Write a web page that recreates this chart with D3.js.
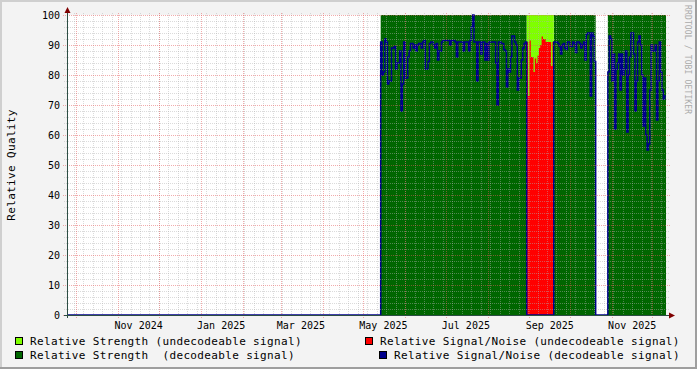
<!doctype html>
<meta charset="utf-8">

<style>
 body { margin: 0; background: #f3f3f3; }
 svg text { font-family: "DejaVu Sans Mono", monospace; }
 .tick text { font-size: 10px; fill: #000; }
 .legend text { font-size: 11px; letter-spacing: 0.35px; fill: #000; }
</style>

<svg width="697" height="369"></svg>

<script src="https://d3js.org/d3.v7.min.js"></script>
<script>
 // Data
 var timeDomain = ["2024-09-24", "2025-12-11"];
 var yTicks = [0, 10, 20, 30, 40, 50, 60, 70, 80, 90, 100];
 var strengthLevel = 100;

 // daily signal/noise while the signal was decodeable
 var snrMayAugStart = "2025-05-14";
 var snrMayAug = [91, 80, 81, 92, 91, 77, 78, 78, 89, 89,
                  89.5, 82, 84, 84, 88, 68, 77, 91, 79, 79,
                  86, 88, 90.5, 90.5, 89, 90, 88, 90, 90.5, 90.5,
                  89, 91, 91.5, 82, 82, 84.5, 90.5, 91, 91, 90,
                  89, 90.5, 85, 88, 88, 91, 91.5, 91.5, 91.5, 91.5,
                  91.5, 90, 91.5, 91.5, 91.5, 91, 86, 91, 91, 91,
                  91, 88, 91, 91, 91, 88, 91.5, 96, 100, 91,
                  91, 78, 91, 91, 87, 91, 91, 85, 90.5, 85,
                  91, 91, 91, 91, 91, 84, 70, 91, 91, 90.5,
                  90.5, 88.5, 88, 76, 82, 81, 86, 93, 93, 91,
                  90, 75, 79, 79, 85, 89, 90.5, 91];
 var snrSepOctStart = "2025-09-19";
 var snrSepOct = [91, 91, 91, 90.5, 89.5, 87, 90, 90.5, 89, 88.5,
                  91, 91, 89.5, 89.5, 91, 90.5, 87.5, 91, 91, 90.5,
                  89, 90, 91, 85, 93.5, 94, 94, 73, 94, 93, 84.5];
 var snrOctDecStart = "2025-10-29";
 var snrOctDec = [81, 93, 92, 78, 87, 62, 82, 84, 87, 75,
                  87, 80, 82, 88, 61, 80, 86, 94, 94, 87,
                  68, 78, 91, 93, 90, 80, 63, 79, 60, 55,
                  57, 75, 90, 88, 88, 90, 65, 78, 91, 81,
                  75, 72, 73];

 // daily signal/noise while the signal was not decodeable
 var snrUndecodeStart = "2025-08-30";
 var snrUndecode = [91, 73, 91.5, 86, 86, 81, 85.5, 84, 86.5, 89,
                    90, 92.8, 92, 92, 91, 91, 91, 91, 83, 91];

 var legendLabels = [
   "Relative Strength (undecodeable signal)",
   "Relative Signal/Noise (undecodeable signal)",
   "Relative Strength  (decodeable signal)",
   "Relative Signal/Noise (decodeable signal)"
 ];

 var colors = {
   strengthUndec: "#7fff00",
   strengthDec: "#006600",
   snrUndec: "#ff0000",
   snrDec: "#00008c"
 };

 // Set up SVG
 var svg = d3.select("svg");
 var width = +svg.attr("width");
 var height = +svg.attr("height");
 var plot = { left: 67, right: 666, top: 15, bottom: 315 };

 var x = d3.scaleUtc()
           .domain(timeDomain.map(function(d) { return new Date(d); }))
           .range([plot.left, plot.right]);
 var y = d3.scaleLinear().domain([0, 100]).range([plot.bottom, plot.top]);

 function daySeries(start, values) {
   var t0 = new Date(start);
   var s = values.map(function(v, i) { return { date: d3.utcDay.offset(t0, i), value: v }; });
   s.push({ date: d3.utcDay.offset(t0, values.length), value: values[values.length - 1] });
   return s;
 }

 var decodeSegments = [
   daySeries(snrMayAugStart, snrMayAug),
   daySeries(snrSepOctStart, snrSepOct),
   daySeries(snrOctDecStart, snrOctDec)
 ];
 var undecodeSegment = daySeries(snrUndecodeStart, snrUndecode);

 // blue line over the whole range, zero where there is no decodeable data
 var lookup = new Map();
 decodeSegments.forEach(function(seg) {
   seg.slice(0, -1).forEach(function(d) { lookup.set(+d.date, d.value); });
 });
 var t0 = x.domain()[0], t1 = x.domain()[1];
 var snrLine = d3.utcDay.range(t0, t1).map(function(d) {
   return { date: d, value: lookup.has(+d) ? lookup.get(+d) : 0 };
 });
 snrLine.push({ date: t1, value: snrLine[snrLine.length - 1].value });

 // Background and frame
 svg.append("rect").attr("width", width).attr("height", height).attr("fill", "#f3f3f3");
 svg.append("rect").attr("width", width).attr("height", 2).attr("fill", "#cfcfcf");
 svg.append("rect").attr("width", 2).attr("height", height).attr("fill", "#cfcfcf");
 svg.append("rect").attr("y", height - 2).attr("width", width).attr("height", 2).attr("fill", "#9e9e9e");
 svg.append("rect").attr("x", width - 2).attr("width", 2).attr("height", height).attr("fill", "#9e9e9e");

 svg.append("rect")
    .attr("x", plot.left).attr("y", plot.top)
    .attr("width", plot.right - plot.left).attr("height", plot.bottom - plot.top)
    .attr("fill", "#fff");

 // Areas
 var fullArea = d3.area()
                  .x(function(d) { return x(d.date); })
                  .y0(y(0))
                  .y1(y(strengthLevel))
                  .curve(d3.curveStepAfter);
 var valueArea = d3.area()
                   .x(function(d) { return x(d.date); })
                   .y0(y(0))
                   .y1(function(d) { return y(d.value); })
                   .curve(d3.curveStepAfter);
 var valueLine = d3.line()
                   .x(function(d) { return x(d.date); })
                   .y(function(d) { return y(d.value); })
                   .curve(d3.curveStepAfter);

 var data = svg.append("g").attr("class", "data");
 decodeSegments.forEach(function(seg) {
   data.append("path").attr("d", fullArea(seg)).attr("fill", colors.strengthDec);
 });
 data.append("path").attr("d", fullArea(undecodeSegment)).attr("fill", colors.strengthUndec);
 data.append("path").attr("d", valueArea(undecodeSegment)).attr("fill", colors.snrUndec);
 data.append("path").attr("d", valueLine(snrLine))
     .attr("fill", "none").attr("stroke", colors.snrDec).attr("stroke-width", 1.5);

 // Grid
 var grid = svg.append("g").attr("shape-rendering", "crispEdges").attr("stroke-dasharray", "1,1");
 var minorColor = "rgba(175,175,175,0.45)";
 var majorColor = "rgba(230,90,90,0.5)";

 d3.range(0, 101, 2).filter(function(v) { return v % 10 !== 0; }).forEach(function(v) {
   grid.append("line")
       .attr("x1", plot.left - 3).attr("x2", plot.right + 3)
       .attr("y1", Math.round(y(v)) + 0.5).attr("y2", Math.round(y(v)) + 0.5)
       .attr("stroke", minorColor);
 });
 d3.utcSunday.range(t0, t1).forEach(function(d) {
   var px = Math.round(x(d)) + 0.5;
   grid.append("line")
       .attr("x1", px).attr("x2", px)
       .attr("y1", plot.top - 2).attr("y2", plot.bottom + 2)
       .attr("stroke", minorColor);
 });
 yTicks.forEach(function(v) {
   grid.append("line")
       .attr("x1", plot.left - 4).attr("x2", plot.right + 4)
       .attr("y1", Math.round(y(v)) + 0.5).attr("y2", Math.round(y(v)) + 0.5)
       .attr("stroke", majorColor);
 });
 d3.utcMonth.range(t0, t1).forEach(function(d) {
   var px = Math.round(x(d)) + 0.5;
   grid.append("line")
       .attr("x1", px).attr("x2", px)
       .attr("y1", plot.top - 2).attr("y2", plot.bottom + 3)
       .attr("stroke", majorColor);
 });

 // Axes
 var axisColor = "#2c4d43";
 var arrowColor = "#7f0000";
 svg.append("line")
    .attr("x1", plot.left + 0.5).attr("x2", plot.left + 0.5)
    .attr("y1", plot.bottom + 3).attr("y2", plot.top - 5)
    .attr("stroke", axisColor).attr("shape-rendering", "crispEdges");
 svg.append("line")
    .attr("x1", plot.left - 3).attr("x2", plot.right + 4)
    .attr("y1", plot.bottom + 0.5).attr("y2", plot.bottom + 0.5)
    .attr("stroke", axisColor).attr("shape-rendering", "crispEdges");
 svg.append("path")
    .attr("d", "M" + (plot.left - 2.5) + "," + (plot.top - 2) + "L" + (plot.left + 3.5) + "," + (plot.top - 2) +
               "L" + (plot.left + 0.5) + "," + (plot.top - 8) + "Z")
    .attr("fill", arrowColor);
 svg.append("path")
    .attr("d", "M" + (plot.right + 3) + "," + (plot.bottom - 2.5) + "L" + (plot.right + 3) + "," + (plot.bottom + 3.5) +
               "L" + (plot.right + 9) + "," + (plot.bottom + 0.5) + "Z")
    .attr("fill", arrowColor);

 // Tick labels
 var ticks = svg.append("g").attr("class", "tick");
 yTicks.forEach(function(v) {
   ticks.append("text")
        .attr("x", plot.left - 7).attr("y", y(v) + 3.5)
        .attr("text-anchor", "end")
        .text(v);
 });
 var fmt = d3.utcFormat("%b %Y");
 d3.utcMonth.every(2).range(t0, t1).forEach(function(d) {
   ticks.append("text")
        .attr("x", x(d3.utcDay.offset(d, 15)))
        .attr("y", plot.bottom + 13.5)
        .attr("text-anchor", "middle")
        .text(fmt(d));
 });

 // Axis title and watermark
 svg.append("text")
    .attr("transform", "translate(15," + ((plot.top + plot.bottom) / 2) + ") rotate(-90)")
    .attr("text-anchor", "middle")
    .attr("font-size", "11px").attr("letter-spacing", "0.35px")
    .text("Relative Quality");
 svg.append("text")
    .attr("transform", "translate(685,5) rotate(90)")
    .attr("font-size", "8px").attr("letter-spacing", "0.15px")
    .attr("fill", "#aaaaaa")
    .text("RRDTOOL / TOBI OETIKER");

 // Legend
 var legend = svg.append("g").attr("class", "legend");
 var legendPos = [
   { bx: 15, tx: 30, y: 337, color: colors.strengthUndec },
   { bx: 365, tx: 380, y: 337, color: colors.snrUndec },
   { bx: 15, tx: 30, y: 351, color: colors.strengthDec },
   { bx: 379, tx: 394, y: 351, color: colors.snrDec }
 ];
 legendLabels.forEach(function(label, i) {
   var p = legendPos[i];
   legend.append("rect")
         .attr("x", p.bx + 0.5).attr("y", p.y + 0.5)
         .attr("width", 7).attr("height", 7)
         .attr("fill", p.color).attr("stroke", "#000")
         .attr("shape-rendering", "crispEdges");
   legend.append("text")
         .attr("x", p.tx).attr("y", p.y + 8)
         .attr("xml:space", "preserve")
         .style("white-space", "pre")
         .text(label);
 });
</script>
